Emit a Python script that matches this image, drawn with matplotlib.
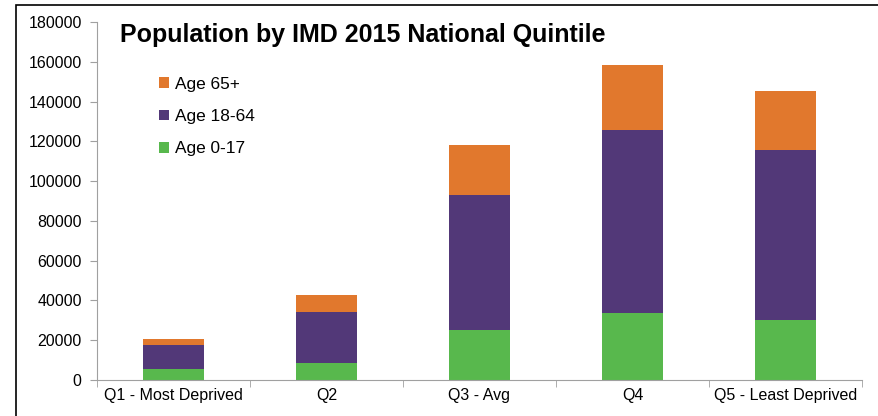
import matplotlib.pyplot as plt
from matplotlib.patches import Rectangle
import numpy as np

plt.rcParams['font.family'] = ['Liberation Sans', 'DejaVu Sans']

categories = ['Q1 - Most Deprived', 'Q2', 'Q3 - Avg', 'Q4', 'Q5 - Least Deprived']
age_0_17 = [5400, 8700, 25100, 33800, 30300]
age_18_64 = [12200, 25300, 67900, 91900, 85300]
age_65_plus = [3000, 8700, 25000, 32700, 29800]

green = '#58b84d'
purple = '#523878'
orange = '#e1782d'

fig = plt.figure(figsize=(8.79, 4.16), dpi=100)
ax = fig.add_axes([97 / 879, 1 - 380 / 416, (862 - 97) / 879, (380 - 22) / 416])

x = np.arange(len(categories))
b1 = ax.bar(x, age_0_17, width=0.4, color=green, label='Age 0-17')
b2 = ax.bar(x, age_18_64, width=0.4, bottom=age_0_17, color=purple, label='Age 18-64')
bottom3 = np.array(age_0_17) + np.array(age_18_64)
b3 = ax.bar(x, age_65_plus, width=0.4, bottom=bottom3, color=orange, label='Age 65+')

ax.set_xlim(-0.5, 4.5)
ax.set_ylim(0, 180000)
ax.set_yticks(range(0, 180001, 20000))
ax.set_xticks(x)
ax.set_xticklabels(categories)
ax.set_xticks(np.arange(-0.5, 5.0, 1.0), minor=True)
ax.tick_params(axis='x', which='major', length=0, labelsize=11.5, pad=6)
ax.tick_params(axis='x', which='minor', length=5, direction='out', color='#a0a0a0')
ax.tick_params(axis='y', labelsize=11.5, length=5, direction='out', color='#a0a0a0', pad=6)

for s in ['top', 'right']:
    ax.spines[s].set_visible(False)
for s in ['left', 'bottom']:
    ax.spines[s].set_color('#a0a0a0')

ax.text(0.030, 0.964, 'Population by IMD 2015 National Quintile', transform=ax.transAxes,
        fontsize=18, fontweight='bold', va='center', ha='left')

ax.legend(handles=[b3, b2, b1], loc='upper left', bbox_to_anchor=(0.061, 0.89),
          frameon=False, fontsize=12.4, handlelength=0.6, handleheight=0.6,
          labelspacing=1.0, handletextpad=0.3)

fig.patches.append(Rectangle((16 / 879, -0.1), 1.2, 1 - 5 / 416 + 0.1,
                             transform=fig.transFigure, fill=False,
                             edgecolor='black', linewidth=1.2))

fig.savefig('out.png', dpi=100)
